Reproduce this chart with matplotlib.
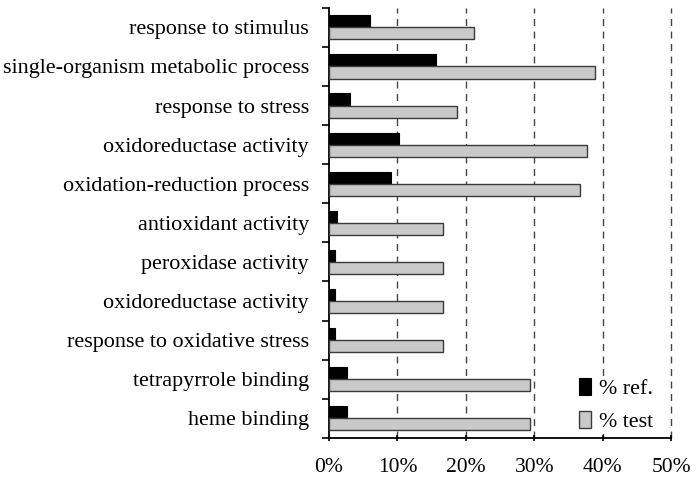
import numpy as np
import matplotlib.pyplot as plt
from matplotlib.ticker import FuncFormatter

# GO terms, top to bottom as in the figure
terms = [
    "response to stimulus",
    "single-organism metabolic process",
    "response to stress",
    "oxidoreductase activity",
    "oxidation-reduction process",
    "antioxidant activity",
    "peroxidase activity",
    "oxidoreductase activity",
    "response to oxidative stress",
    "tetrapyrrole binding",
    "heme binding",
]
pct_ref = [6.0, 15.6, 3.1, 10.2, 9.0, 1.2, 0.9, 0.9, 0.9, 2.7, 2.6]
pct_test = [21.2, 38.9, 18.7, 37.7, 36.6, 16.6, 16.6, 16.6, 16.6, 29.4, 29.4]
xticks = [0, 10, 20, 30, 40, 50]

plt.rcParams['font.family'] = ['Liberation Serif', 'DejaVu Serif']

fig = plt.figure(figsize=(7, 4.86), dpi=100)
ax = fig.add_axes([0.470, 0.099, 0.489, 0.885])

n = len(terms)
y = np.arange(n)[::-1]
h = 0.31

ax.barh(y + h / 2, pct_ref, height=h, color='black', edgecolor='black',
        linewidth=0.8, label='% ref.', zorder=3)
ax.barh(y - h / 2, pct_test, height=h, color='#c9c9c9', edgecolor='#3a3a3a',
        linewidth=1.0, label='% test', zorder=3)

ax.set_xlim(0, 50)
ax.set_ylim(-0.5, n - 0.5)
ax.set_xticks(xticks)
ax.xaxis.set_major_formatter(FuncFormatter(lambda v, p: '%d%%' % v))
ax.set_yticks(y)
ax.set_yticklabels(terms)
ax.set_yticks(np.arange(-0.5, n, 1), minor=True)
ax.tick_params(axis='y', which='major', length=0, pad=14.5, labelsize=15.9)
ax.tick_params(axis='y', which='minor', length=5, width=1.2, direction='out')
ax.tick_params(axis='x', which='major', length=5, width=1.2, direction='inout',
               labelsize=15.5, pad=12)

for s in ['top', 'right']:
    ax.spines[s].set_visible(False)
ax.spines['left'].set_linewidth(1.3)
ax.spines['bottom'].set_linewidth(1.3)
ax.spines['bottom'].set_zorder(6)
ax.xaxis.set_zorder(6)

for xv in xticks[1:]:
    ax.axvline(xv, color='#444444', linestyle=(0, (5, 4)), linewidth=1.0,
               zorder=1, clip_on=False)

leg = ax.legend(loc='lower right', bbox_to_anchor=(0.984, -0.017), fontsize=15.8,
                frameon=True, handlelength=0.55, handleheight=0.8,
                handletextpad=0.35, labelspacing=0.55, borderpad=0.1)
leg.get_frame().set_edgecolor('none')
leg.get_frame().set_facecolor('white')
leg.get_frame().set_alpha(1)
leg.set_zorder(5)

fig.savefig('out.png', dpi=100)
